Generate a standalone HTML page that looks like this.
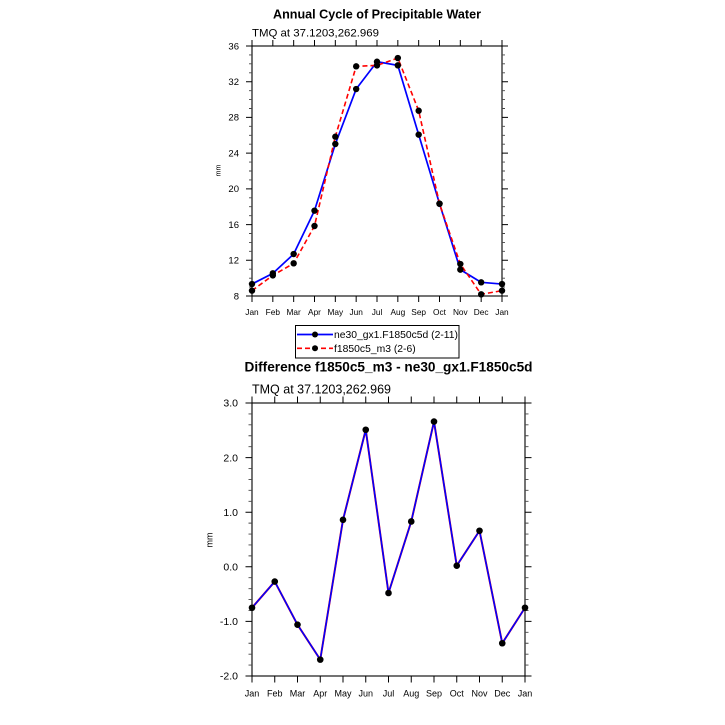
<!DOCTYPE html>
<html><head><meta charset="utf-8"><style>
html,body{margin:0;padding:0;background:#fff;}
svg{display:block;}
text{font-family:"Liberation Sans",Helvetica,Arial,sans-serif;fill:#000;}
</style></head><body>
<svg width="725" height="725" viewBox="0 0 725 725" xmlns="http://www.w3.org/2000/svg">
<rect width="725" height="725" fill="#fff"/>

<!-- ===== TOP PLOT ===== -->
<text x="377" y="18.3" font-size="12.5" font-weight="bold" text-anchor="middle" textLength="208" lengthAdjust="spacingAndGlyphs">Annual Cycle of Precipitable Water</text>
<text x="252" y="36.7" font-size="11.4" textLength="127" lengthAdjust="spacingAndGlyphs">TMQ at 37.1203,262.969</text>

<rect x="252" y="46" width="250" height="250" fill="none" stroke="#000" stroke-width="1.1"/>
<!-- y major ticks -->
<path stroke="#000" stroke-width="1" fill="none" d="
M246 296H252M246 260.29H252M246 224.57H252M246 188.86H252M246 153.14H252M246 117.43H252M246 81.71H252M246 46H252
M502 296H508M502 260.29H508M502 224.57H508M502 188.86H508M502 153.14H508M502 117.43H508M502 81.71H508M502 46H508"/>
<!-- y minor ticks -->
<path stroke="#444" stroke-width="0.9" fill="none" d="
M249 287.07H252M249 278.14H252M249 269.21H252M249 251.36H252M249 242.43H252M249 233.5H252M249 215.64H252M249 206.71H252M249 197.79H252M249 179.93H252M249 171H252M249 162.07H252M249 144.21H252M249 135.29H252M249 126.36H252M249 108.5H252M249 99.57H252M249 90.64H252M249 72.79H252M249 63.86H252M249 54.93H252
M502 287.07H505M502 278.14H505M502 269.21H505M502 251.36H505M502 242.43H505M502 233.5H505M502 215.64H505M502 206.71H505M502 197.79H505M502 179.93H505M502 171H505M502 162.07H505M502 144.21H505M502 135.29H505M502 126.36H505M502 108.5H505M502 99.57H505M502 90.64H505M502 72.79H505M502 63.86H505M502 54.93H505"/>
<!-- x ticks -->
<path stroke="#000" stroke-width="1" fill="none" d="
M252 46V40M272.83 46V40M293.67 46V40M314.5 46V40M335.33 46V40M356.17 46V40M377 46V40M397.83 46V40M418.67 46V40M439.5 46V40M460.33 46V40M481.17 46V40M502 46V40
M252 296V302M272.83 296V302M293.67 296V302M314.5 296V302M335.33 296V302M356.17 296V302M377 296V302M397.83 296V302M418.67 296V302M439.5 296V302M460.33 296V302M481.17 296V302M502 296V302"/>
<!-- y labels -->
<g font-size="9.5" text-anchor="end">
<text x="239" y="299.3">8</text>
<text x="239" y="263.6">12</text>
<text x="239" y="227.9">16</text>
<text x="239" y="192.2">20</text>
<text x="239" y="156.4">24</text>
<text x="239" y="120.7">28</text>
<text x="239" y="85">32</text>
<text x="239" y="49.3">36</text>
</g>
<!-- x labels -->
<g font-size="8.3" text-anchor="middle">
<text x="252" y="315">Jan</text>
<text x="272.83" y="315">Feb</text>
<text x="293.67" y="315">Mar</text>
<text x="314.5" y="315">Apr</text>
<text x="335.33" y="315">May</text>
<text x="356.17" y="315">Jun</text>
<text x="377" y="315">Jul</text>
<text x="397.83" y="315">Aug</text>
<text x="418.67" y="315">Sep</text>
<text x="439.5" y="315">Oct</text>
<text x="460.33" y="315">Nov</text>
<text x="481.17" y="315">Dec</text>
<text x="502" y="315">Jan</text>
</g>
<text transform="translate(220.5,170.5) rotate(-90)" font-size="7" text-anchor="middle">mm</text>

<!-- blue series -->
<polyline fill="none" stroke="#0000ff" stroke-width="1.7" stroke-linejoin="round" points="252,284.04 272.83,273.32 293.67,254.04 314.5,210.64 335.33,144.04 356.17,89.04 377,61.71 397.83,65.37 418.67,134.66 439.5,203.68 460.33,269.66 481.17,282.34 502,284.04"/>
<!-- red series -->
<polyline fill="none" stroke="#ff0000" stroke-width="1.6" stroke-dasharray="5,3" stroke-linejoin="round" points="252,290.64 272.83,275.37 293.67,263.32 314.5,226 335.33,136.71 356.17,66.36 377,65.37 397.83,58.05 418.67,110.73 439.5,203.68 460.33,264.04 481.17,294.3 502,290.64"/>
<g fill="#000">
<circle cx="252" cy="284.04" r="3.2"/><circle cx="272.83" cy="273.32" r="3.2"/><circle cx="293.67" cy="254.04" r="3.2"/><circle cx="314.5" cy="210.64" r="3.2"/><circle cx="335.33" cy="144.04" r="3.2"/><circle cx="356.17" cy="89.04" r="3.2"/><circle cx="377" cy="61.71" r="3.2"/><circle cx="397.83" cy="65.37" r="3.2"/><circle cx="418.67" cy="134.66" r="3.2"/><circle cx="439.5" cy="203.68" r="3.2"/><circle cx="460.33" cy="269.66" r="3.2"/><circle cx="481.17" cy="282.34" r="3.2"/><circle cx="502" cy="284.04" r="3.2"/>
<circle cx="252" cy="290.64" r="3.2"/><circle cx="272.83" cy="275.37" r="3.2"/><circle cx="293.67" cy="263.32" r="3.2"/><circle cx="314.5" cy="226" r="3.2"/><circle cx="335.33" cy="136.71" r="3.2"/><circle cx="356.17" cy="66.36" r="3.2"/><circle cx="377" cy="65.37" r="3.2"/><circle cx="397.83" cy="58.05" r="3.2"/><circle cx="418.67" cy="110.73" r="3.2"/><circle cx="439.5" cy="203.68" r="3.2"/><circle cx="460.33" cy="264.04" r="3.2"/><circle cx="481.17" cy="294.3" r="3.2"/><circle cx="502" cy="290.64" r="3.2"/>
</g>

<!-- legend -->
<rect x="295.5" y="325.5" width="163.5" height="32.5" fill="#fff" stroke="#000" stroke-width="1"/>
<line x1="297" y1="334.5" x2="333" y2="334.5" stroke="#0000ff" stroke-width="1.7"/>
<circle cx="315" cy="334.5" r="3" fill="#000"/>
<text x="334" y="338.2" font-size="10.3" textLength="124" lengthAdjust="spacingAndGlyphs">ne30_gx1.F1850c5d (2-11)</text>
<line x1="297" y1="348.3" x2="333" y2="348.3" stroke="#ff0000" stroke-width="1.6" stroke-dasharray="5,3"/>
<circle cx="315" cy="348.3" r="3" fill="#000"/>
<text x="334" y="352" font-size="10.3" textLength="81.7" lengthAdjust="spacingAndGlyphs">f1850c5_m3 (2-6)</text>

<!-- ===== BOTTOM PLOT ===== -->
<text x="388.5" y="371.7" font-size="13.6" font-weight="bold" text-anchor="middle" textLength="288" lengthAdjust="spacingAndGlyphs">Difference f1850c5_m3 - ne30_gx1.F1850c5d</text>
<text x="252" y="393.3" font-size="12.5" textLength="139" lengthAdjust="spacingAndGlyphs">TMQ at 37.1203,262.969</text>

<rect x="252" y="403" width="273" height="273" fill="none" stroke="#000" stroke-width="1.1"/>
<path stroke="#000" stroke-width="1" fill="none" d="
M245.5 676H252M245.5 621.4H252M245.5 566.8H252M245.5 512.2H252M245.5 457.6H252M245.5 403H252
M525 676H531.5M525 621.4H531.5M525 566.8H531.5M525 512.2H531.5M525 457.6H531.5M525 403H531.5"/>
<path stroke="#444" stroke-width="0.9" fill="none" d="
M248.5 665.08H252M248.5 654.16H252M248.5 643.24H252M248.5 632.32H252M248.5 610.48H252M248.5 599.56H252M248.5 588.64H252M248.5 577.72H252M248.5 555.88H252M248.5 544.96H252M248.5 534.04H252M248.5 523.12H252M248.5 501.28H252M248.5 490.36H252M248.5 479.44H252M248.5 468.52H252M248.5 446.68H252M248.5 435.76H252M248.5 424.84H252M248.5 413.92H252
M525 665.08H528.5M525 654.16H528.5M525 643.24H528.5M525 632.32H528.5M525 610.48H528.5M525 599.56H528.5M525 588.64H528.5M525 577.72H528.5M525 555.88H528.5M525 544.96H528.5M525 534.04H528.5M525 523.12H528.5M525 501.28H528.5M525 490.36H528.5M525 479.44H528.5M525 468.52H528.5M525 446.68H528.5M525 435.76H528.5M525 424.84H528.5M525 413.92H528.5"/>
<path stroke="#000" stroke-width="1" fill="none" d="
M252 403V396.5M274.75 403V396.5M297.5 403V396.5M320.25 403V396.5M343 403V396.5M365.75 403V396.5M388.5 403V396.5M411.25 403V396.5M434 403V396.5M456.75 403V396.5M479.5 403V396.5M502.25 403V396.5M525 403V396.5
M252 676V682.5M274.75 676V682.5M297.5 676V682.5M320.25 676V682.5M343 676V682.5M365.75 676V682.5M388.5 676V682.5M411.25 676V682.5M434 676V682.5M456.75 676V682.5M479.5 676V682.5M502.25 676V682.5M525 676V682.5"/>
<g font-size="10.5" text-anchor="end">
<text x="238" y="679.7">-2.0</text>
<text x="238" y="625.1">-1.0</text>
<text x="238" y="570.5">0.0</text>
<text x="238" y="515.9">1.0</text>
<text x="238" y="461.3">2.0</text>
<text x="238" y="406.7">3.0</text>
</g>
<g font-size="9" text-anchor="middle">
<text x="252" y="696.5">Jan</text>
<text x="274.75" y="696.5">Feb</text>
<text x="297.5" y="696.5">Mar</text>
<text x="320.25" y="696.5">Apr</text>
<text x="343" y="696.5">May</text>
<text x="365.75" y="696.5">Jun</text>
<text x="388.5" y="696.5">Jul</text>
<text x="411.25" y="696.5">Aug</text>
<text x="434" y="696.5">Sep</text>
<text x="456.75" y="696.5">Oct</text>
<text x="479.5" y="696.5">Nov</text>
<text x="502.25" y="696.5">Dec</text>
<text x="525" y="696.5">Jan</text>
</g>
<text transform="translate(212.5,540) rotate(-90)" font-size="9" text-anchor="middle">mm</text>

<polyline fill="none" stroke="#ff0000" stroke-width="2" stroke-linejoin="round" points="252,607.75 274.75,581.54 297.5,624.68 320.25,659.62 343,519.84 365.75,429.75 388.5,593 411.25,521.48 434,421.56 456.75,565.71 479.5,530.76 502.25,643.24 525,607.75"/>
<polyline fill="none" stroke="#0000ff" stroke-width="1.6" stroke-linejoin="round" points="252,607.75 274.75,581.54 297.5,624.68 320.25,659.62 343,519.84 365.75,429.75 388.5,593 411.25,521.48 434,421.56 456.75,565.71 479.5,530.76 502.25,643.24 525,607.75"/>
<g fill="#000">
<circle cx="252" cy="607.75" r="3.3"/><circle cx="274.75" cy="581.54" r="3.3"/><circle cx="297.5" cy="624.68" r="3.3"/><circle cx="320.25" cy="659.62" r="3.3"/><circle cx="343" cy="519.84" r="3.3"/><circle cx="365.75" cy="429.75" r="3.3"/><circle cx="388.5" cy="593" r="3.3"/><circle cx="411.25" cy="521.48" r="3.3"/><circle cx="434" cy="421.56" r="3.3"/><circle cx="456.75" cy="565.71" r="3.3"/><circle cx="479.5" cy="530.76" r="3.3"/><circle cx="502.25" cy="643.24" r="3.3"/><circle cx="525" cy="607.75" r="3.3"/>
</g>
</svg>
</body></html>
